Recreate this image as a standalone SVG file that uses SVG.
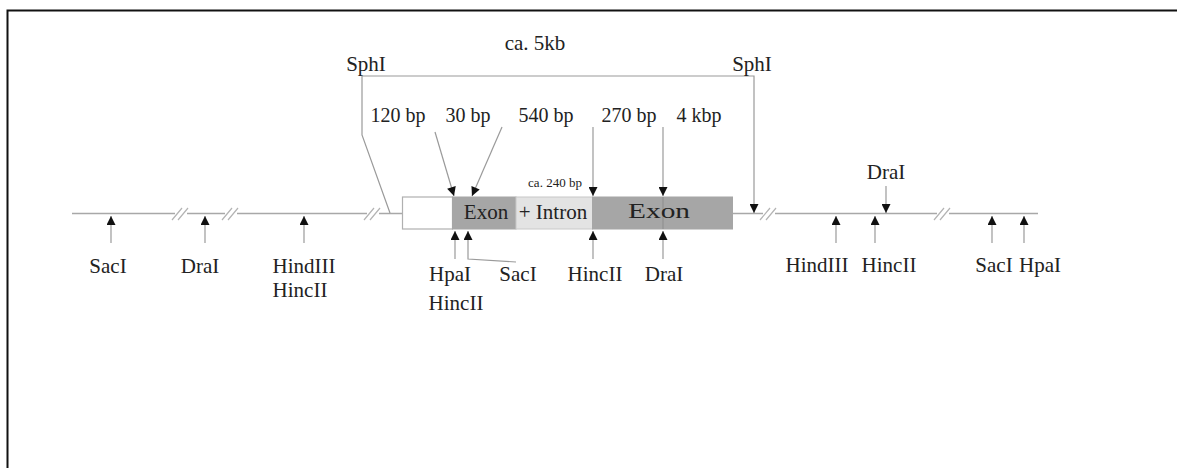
<svg xmlns="http://www.w3.org/2000/svg" width="1177" height="468" viewBox="0 0 1177 468">
  <style>
    text { font-family: "Liberation Serif", "Times New Roman", serif; fill: #222; text-anchor: middle; }
    .lbl { font-size: 21px; }
    .num { font-size: 20px; }
    .small { font-size: 13px; }
    .line { stroke: #a8a8a8; stroke-width: 1.3; fill: none; }
    .ptr { stroke: #9a9a9a; stroke-width: 1.2; fill: none; }
    .brk { stroke: #b4b4b4; stroke-width: 1.2; fill: none; }
  </style>
  <defs>
    <marker id="head" viewBox="0 0 10 10" refX="10" refY="5" markerUnits="userSpaceOnUse" markerWidth="11" markerHeight="9" orient="auto">
      <path d="M0,0 L10,5 L0,10 z" fill="#111"/>
    </marker>
  </defs>

  <rect width="1177" height="468" fill="#fff"/>
  <!-- frame -->
  <path d="M7.5,468 L7.5,10.5 L1177,10.5" fill="none" stroke="#111" stroke-width="2"/>

  <!-- DNA backbone -->
  <g id="backbone">
    <line class="line" x1="72" y1="213.5" x2="1038" y2="213.5"/>
  </g>

  <!-- gene body -->
  <g id="gene">
    <rect x="402.5" y="197" width="50" height="32" fill="#fff" stroke="#b0b0b0" stroke-width="1.2"/>
    <rect x="452.5" y="197" width="63.5" height="32" fill="#a6a6a6" stroke="#a6a6a6" stroke-width="1"/>
    <rect x="516" y="197" width="76.5" height="32" fill="#e3e3e3" stroke="#c8c8c8" stroke-width="1"/>
    <rect x="592.5" y="197" width="140" height="32" fill="#a6a6a6" stroke="#a6a6a6" stroke-width="1"/>
    <line x1="663" y1="197" x2="663" y2="229" stroke="#8c8c8c" stroke-width="1"/>
    <text class="lbl" x="486" y="219">Exon</text>
    <text class="lbl" x="553" y="219">+ Intron</text>
    <text class="lbl" x="628" y="218" textLength="62" lengthAdjust="spacingAndGlyphs" style="text-anchor:start">Exon</text>
  </g>

  <!-- break marks on the backbone -->
  <g id="breaks">
    <rect x="175" y="208" width="12" height="11" fill="#fff"/>
    <path class="brk" d="M172,220 L182,208 M178,220 L188,208"/>
    <rect x="225" y="208" width="12" height="11" fill="#fff"/>
    <path class="brk" d="M222,220 L232,208 M228,220 L238,208"/>
    <rect x="367" y="208" width="12" height="11" fill="#fff"/>
    <path class="brk" d="M364,220 L374,208 M370,220 L380,208"/>
    <rect x="763" y="208" width="12" height="11" fill="#fff"/>
    <path class="brk" d="M760,220 L770,208 M766,220 L776,208"/>
    <rect x="937" y="208" width="12" height="11" fill="#fff"/>
    <path class="brk" d="M934,220 L944,208 M940,220 L950,208"/>
  </g>

  <!-- connectors -->
  <g id="connectors">
    <!-- SphI span -->
    <polyline class="ptr" points="390,213 362,135 362,76 754,76 754,213" marker-end="url(#head)"/>
    <!-- top fragment pointers -->
    <line class="ptr" x1="435" y1="132" x2="454" y2="196" marker-end="url(#head)"/>
    <line class="ptr" x1="502" y1="127" x2="472" y2="196" marker-end="url(#head)"/>
    <line class="ptr" x1="593" y1="127" x2="593" y2="196" marker-end="url(#head)"/>
    <line class="ptr" x1="663" y1="127" x2="663" y2="196" marker-end="url(#head)"/>
    <line class="ptr" x1="886" y1="186" x2="886" y2="213" marker-end="url(#head)"/>
    <!-- sites below the backbone -->
    <line class="ptr" x1="111" y1="243" x2="111" y2="216" marker-end="url(#head)"/>
    <line class="ptr" x1="205" y1="243" x2="205" y2="216" marker-end="url(#head)"/>
    <line class="ptr" x1="304" y1="243" x2="304" y2="216" marker-end="url(#head)"/>
    <line class="ptr" x1="836" y1="243" x2="836" y2="216" marker-end="url(#head)"/>
    <line class="ptr" x1="875" y1="243" x2="875" y2="216" marker-end="url(#head)"/>
    <line class="ptr" x1="992" y1="243" x2="992" y2="216" marker-end="url(#head)"/>
    <line class="ptr" x1="1024" y1="243" x2="1024" y2="216" marker-end="url(#head)"/>
    <!-- sites below the gene -->
    <line class="ptr" x1="455" y1="259" x2="455" y2="231" marker-end="url(#head)"/>
    <polyline class="ptr" points="516,262 468,259 468,231" marker-end="url(#head)"/>
    <line class="ptr" x1="593" y1="259" x2="593" y2="231" marker-end="url(#head)"/>
    <line class="ptr" x1="663" y1="259" x2="663" y2="231" marker-end="url(#head)"/>
  </g>

  <!-- labels -->
  <g id="labels">
    <text class="lbl" x="535" y="50">ca. 5kb</text>
    <text class="lbl" x="366" y="71">SphI</text>
    <text class="lbl" x="752" y="71">SphI</text>
    <text class="num" x="398" y="122">120 bp</text>
    <text class="num" x="468" y="122">30 bp</text>
    <text class="num" x="546" y="122">540 bp</text>
    <text class="num" x="629" y="122">270 bp</text>
    <text class="num" x="699" y="122">4 kbp</text>
    <text class="small" x="555" y="187">ca. 240 bp</text>
    <text class="lbl" x="886" y="179">DraI</text>

    <text class="lbl" x="108" y="273">SacI</text>
    <text class="lbl" x="200" y="273">DraI</text>
    <text class="lbl" x="304" y="273">HindIII</text>
    <text class="lbl" x="300" y="297">HincII</text>

    <text class="lbl" x="450" y="281">HpaI</text>
    <text class="lbl" x="456" y="310">HincII</text>
    <text class="lbl" x="518" y="281">SacI</text>
    <text class="lbl" x="595" y="281">HincII</text>
    <text class="lbl" x="664" y="281">DraI</text>

    <text class="lbl" x="817" y="272">HindIII</text>
    <text class="lbl" x="889" y="272">HincII</text>
    <text class="lbl" x="994" y="272">SacI</text>
    <text class="lbl" x="1040" y="272">HpaI</text>
  </g>
</svg>
